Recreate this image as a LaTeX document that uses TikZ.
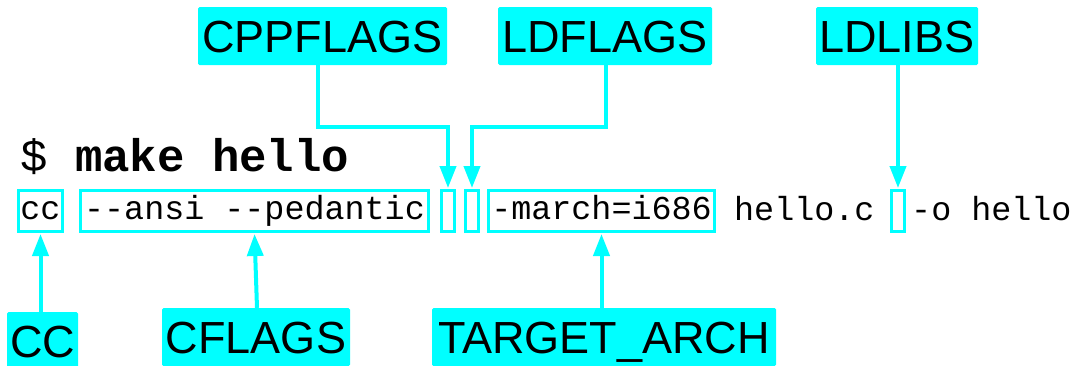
\documentclass[tikz,border=0pt]{standalone}
\usepackage{fontspec}
\newfontfamily\labfont{Liberation Sans}
\newfontfamily\monofont{Liberation Mono}
\usetikzlibrary{arrows.meta}
\definecolor{cy}{RGB}{0,255,255}
\tikzset{
  lab/.style={fill=cy, rounded corners=1.5pt, inner xsep=2pt, inner ysep=0pt,
    minimum height=58pt, text height=32.2pt, text depth=0pt,
    font=\labfont\fontsize{45pt}{54pt}\selectfont},
  mbox/.style={draw=cy, line width=3pt, inner sep=0pt, minimum height=41pt,
    text height=24pt, text depth=7pt,
    font=\monofont\fontsize{33.4pt}{40pt}\selectfont},
  mtext/.style={anchor=base west, inner sep=0pt,
    font=\monofont\fontsize{33.4pt}{40pt}\selectfont},
  conn/.style={draw=cy, line width=4pt,
    -{Triangle[width=16pt,length=22pt]}, shorten >=1pt},
}
\begin{document}
\begin{tikzpicture}[x=1pt,y=-1pt]
\useasboundingbox[fill=white] (0,0) rectangle (1079,365);
% labels
\node[lab, minimum width=249pt] (cpp) at (322.5,36) {CPPFLAGS};
\node[lab, minimum width=214pt] (ld) at (605,36) {LDFLAGS};
\node[lab, minimum width=162pt] (ldlibs) at (897,36) {LDLIBS};
\node[lab, minimum width=71pt] (cclab) at (42.5,341) {CC};
\node[lab, minimum width=188pt] (cflags) at (256,337) {CFLAGS};
\node[lab, minimum width=344pt] (ta) at (604,337) {TARGET\_ARCH};
% command line
\node[anchor=base west, inner sep=0pt, font=\monofont\fontsize{45.7pt}{50pt}\selectfont] (prompt) at (20,171.5) {\$ \textbf{make hello}};
\node[mbox, minimum width=44pt] (cc) at (40.5,211) {cc};
\node[mbox, minimum width=348pt] (ansi) at (254.5,211) {-{}-ansi -{}-pedantic};
\node[mbox, minimum width=13pt] (e1) at (448,211) {};
\node[mbox, minimum width=13pt] (e2) at (472,211) {};
\node[mbox, minimum width=226pt] (march) at (601.5,211) {-march=i686};
\node[mtext] (hc) at (734,220) {hello.c};
\node[mbox, minimum width=13pt] (e3) at (898,211) {};
\node[mtext] (oh) at (911,220) {-o hello};
% connectors
\draw[conn] ([xshift=-4.5pt]cpp.south) -- ++(0,62) -| (e1.north);
\draw[conn] ([xshift=1pt]ld.south) -- ++(0,62) -| (e2.north);
\draw[conn] (e3.north |- ldlibs.south) -- (e3.north);
\draw[conn] (cc.south |- cclab.north) -- (cc.south);
\draw[conn] ([xshift=1pt]cflags.north) -- (ansi.south);
\draw[conn] (march.south |- ta.north) -- (march.south);
\end{tikzpicture}
\end{document}
